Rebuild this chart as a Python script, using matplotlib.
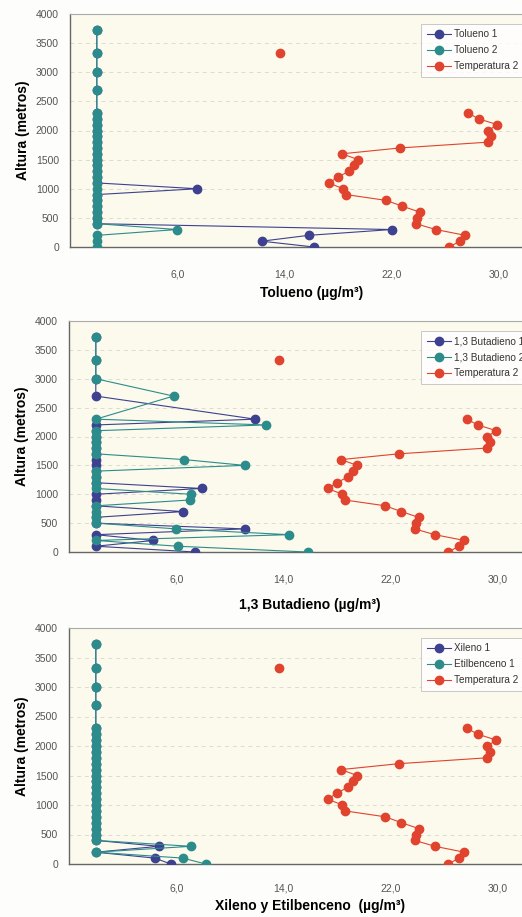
import numpy as np
import matplotlib.pyplot as plt

# alturas de muestreo (m)
altura = [0, 100, 200, 300, 400, 500, 600, 700, 800, 900, 1000, 1100, 1200,
          1300, 1400, 1500, 1600, 1700, 1800, 1900, 2000, 2100, 2200, 2300,
          2700, 3000, 3330, 3730]

nan = np.nan
temperatura2 = [26.3, 27.1, 27.5, 25.3, 23.8, 23.9, 24.1, 22.8, 21.6, 18.6,
                18.4, 17.3, 18.0, 18.8, 19.2, 19.5, 18.3, 22.6, 29.2, 29.4,
                29.2, 29.9, 28.5, 27.7, nan, nan, 13.7, nan]

def ceros():
    return [0.0] * len(altura)

# Tolueno
tolueno1 = ceros()
tolueno1[0], tolueno1[1], tolueno1[2], tolueno1[3] = 16.2, 12.3, 15.8, 22.0
tolueno1[10] = 7.5
tolueno2 = ceros()
tolueno2[3] = 6.0

# 1,3 Butadieno
butadieno1 = ceros()
butadieno1[0], butadieno1[2], butadieno1[4] = 7.4, 4.3, 11.1
butadieno1[7], butadieno1[11], butadieno1[23] = 6.5, 7.9, 11.9
butadieno2 = ceros()
butadieno2[0], butadieno2[1], butadieno2[3], butadieno2[4] = 15.8, 6.1, 14.4, 6.0
butadieno2[9], butadieno2[10] = 7.0, 7.1
butadieno2[15], butadieno2[16] = 11.1, 6.6
butadieno2[22], butadieno2[24] = 12.7, 5.8

# Xileno y Etilbenceno
xileno1 = ceros()
xileno1[0], xileno1[1], xileno1[3] = 5.6, 4.4, 4.7
etilbenceno1 = ceros()
etilbenceno1[0], etilbenceno1[1], etilbenceno1[3] = 8.2, 6.5, 7.1

paneles = [
    (tolueno1, tolueno2, 'Tolueno 1', 'Tolueno 2', 'Tolueno (µg/m³)'),
    (butadieno1, butadieno2, '1,3 Butadieno 1', '1,3 Butadieno 2',
     '1,3 Butadieno (µg/m³)'),
    (xileno1, etilbenceno1, 'Xileno 1', 'Etilbenceno 1',
     'Xileno y Etilbenceno  (µg/m³)'),
]

# posiciones en pixeles: (izq, arriba, abajo, pad ticks, pad label)
geom = [(70, 14, 247, 16, 5), (69, 321, 552, 16, 10), (69, 628, 864, 14, 4)]

W, H = 522, 917
plt.rcParams['font.family'] = ['Liberation Sans', 'DejaVu Sans']
fig = plt.figure(figsize=(W / 100, H / 100), dpi=100)
fig.patch.set_facecolor('#fdfdfb')

c_azul = '#3d4190'
c_verde = '#2c8c8c'
c_rojo = '#e0432e'
pxu = 13.4

for (s1, s2, n1, n2, xl), (izq, arr, aba, pt, pl) in zip(paneles, geom):
    ax = fig.add_axes([izq / W, 1 - aba / H, 36 * pxu / W, (aba - arr) / H])
    ax.set_facecolor('#fcfaec')
    ax.plot(s1, altura, '-o', color=c_azul, lw=0.8, ms=6,
            markeredgecolor=c_azul, label=n1, zorder=3)
    ax.plot(s2, altura, '-o', color=c_verde, lw=0.8, ms=6,
            markeredgecolor=c_verde, label=n2, zorder=4)
    ax.plot(temperatura2, altura, '-o', color=c_rojo, lw=0.8, ms=6,
            markeredgecolor=c_rojo, label='Temperatura 2', zorder=5)
    ax.set_xlim(-2, 34)
    ax.set_ylim(0, 4000)
    ax.set_xticks([6, 14, 22, 30])
    ax.set_xticklabels(['6,0', '14,0', '22,0', '30,0'])
    ax.set_yticks(np.arange(0, 4001, 500))
    ax.tick_params(length=0, labelsize=7.5, labelcolor='#555555')
    ax.tick_params(axis='x', pad=pt)
    ax.tick_params(axis='y', pad=8)
    ax.grid(axis='y', ls=(0, (4, 4)), color='#dcdcd0', lw=0.7)
    for lado in ['left', 'bottom']:
        ax.spines[lado].set_color('#666666')
        ax.spines[lado].set_linewidth(1.0)
    ax.spines['top'].set_color('#aaaaaa')
    ax.spines['top'].set_linewidth(0.8)
    ax.spines['right'].set_visible(False)
    ax.set_ylabel('Altura (metros)', fontsize=10, fontweight='bold', labelpad=4)
    ax.set_xlabel(xl, fontsize=10, fontweight='bold', labelpad=pl)
    leg = ax.legend(loc='upper left',
                    bbox_to_anchor=((416 - izq) / (36 * pxu), 0.98),
                    fontsize=7.2, frameon=True, fancybox=False,
                    handlelength=2.4, borderpad=0.55, labelspacing=0.6,
                    handletextpad=0.3)
    leg.get_frame().set_edgecolor('#bbbbbb')
    leg.get_frame().set_linewidth(0.7)
    leg.get_frame().set_facecolor('white')
    for t in leg.get_texts():
        t.set_color('#333333')

fig.savefig('out.png', dpi=100, facecolor=fig.get_facecolor())
